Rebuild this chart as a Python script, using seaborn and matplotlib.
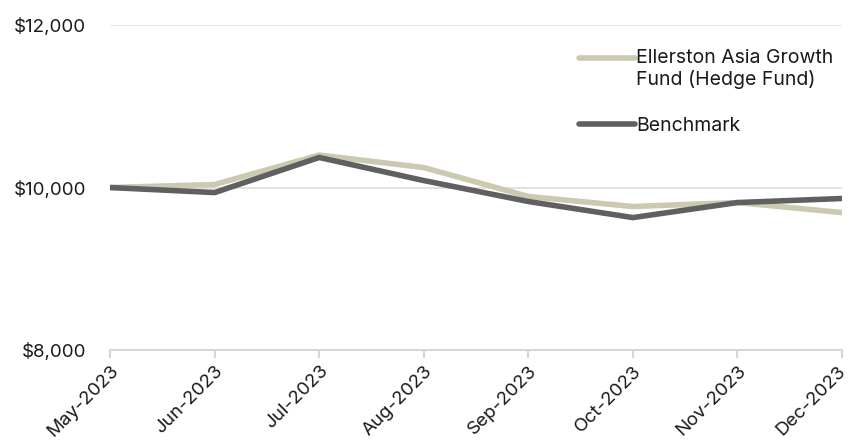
import pandas as pd
import matplotlib.pyplot as plt
import matplotlib.transforms as mtransforms
import seaborn as sns

months = ["May-2023", "Jun-2023", "Jul-2023", "Aug-2023",
          "Sep-2023", "Oct-2023", "Nov-2023", "Dec-2023"]
fund = [10000, 10037, 10400, 10246, 9890, 9766, 9815, 9692]
benchmark = [10000, 9938, 10370, 10086, 9828, 9630, 9815, 9865]

fund_name = "Ellerston Asia Growth\nFund (Hedge Fund)"
bench_name = "Benchmark"

df = pd.DataFrame({"Month": months * 2,
                   "Value": fund + benchmark,
                   "Series": [fund_name] * len(months) + [bench_name] * len(months)})
df["x"] = list(range(len(months))) * 2

sns.set_theme(style="white")
plt.rcParams["font.family"] = ["Inter", "DejaVu Sans"]

fig = plt.figure(figsize=(8.49, 4.48), dpi=100)
ax = fig.add_axes([0.1296, 0.2188, 0.8622, 0.7252])

palette = {fund_name: "#cbcab0", bench_name: "#606060"}
sns.lineplot(data=df, x="x", y="Value", hue="Series", palette=palette,
             linewidth=4, ax=ax, solid_capstyle="round")

ax.set_ylim(8000, 12000)
ax.set_xlim(0, len(months) - 1)
ax.set_yticks([8000, 10000, 12000])
ax.set_yticklabels(["$8,000", "$10,000", "$12,000"])
ax.set_xticks(range(len(months)))
ax.set_xticklabels(months, rotation=45, ha="right", rotation_mode="anchor")
ax.yaxis.grid(True, color="#dddddd", linewidth=1.2)
ax.set_axisbelow(True)
for s in ["top", "right", "left"]:
    ax.spines[s].set_visible(False)
ax.spines["bottom"].set_color("#d6d6d6")
ax.spines["bottom"].set_linewidth(1.5)
ax.tick_params(axis="x", bottom=True, length=6, width=1.5, color="#d6d6d6",
               labelsize=13.5, pad=3, labelcolor="#1a1a1a")
ax.tick_params(axis="y", left=False, labelsize=13.5, pad=11, labelcolor="#1a1a1a")
ax.set_xlabel("")
ax.set_ylabel("")

# nudge the last month label so it stays inside the figure
last = ax.get_xticklabels()[-1]
last.set_transform(last.get_transform() +
                   mtransforms.ScaledTranslation(-5 / 100, 0, fig.dpi_scale_trans))

leg = ax.legend(loc="upper right", bbox_to_anchor=(1.012, 0.98), frameon=False,
                fontsize=14, handlelength=2.9, handletextpad=0.05, labelspacing=1.45)
for line in leg.get_lines():
    line.set_linewidth(4)
    line.set_solid_capstyle("round")
# put the fund handle level with the first text line
fl = leg.get_lines()[0]
fl.set_ydata([y + 8 for y in fl.get_ydata()])
for t in leg.get_texts():
    t.set_color("#1a1a1a")

fig.savefig("out.png", dpi=100)
